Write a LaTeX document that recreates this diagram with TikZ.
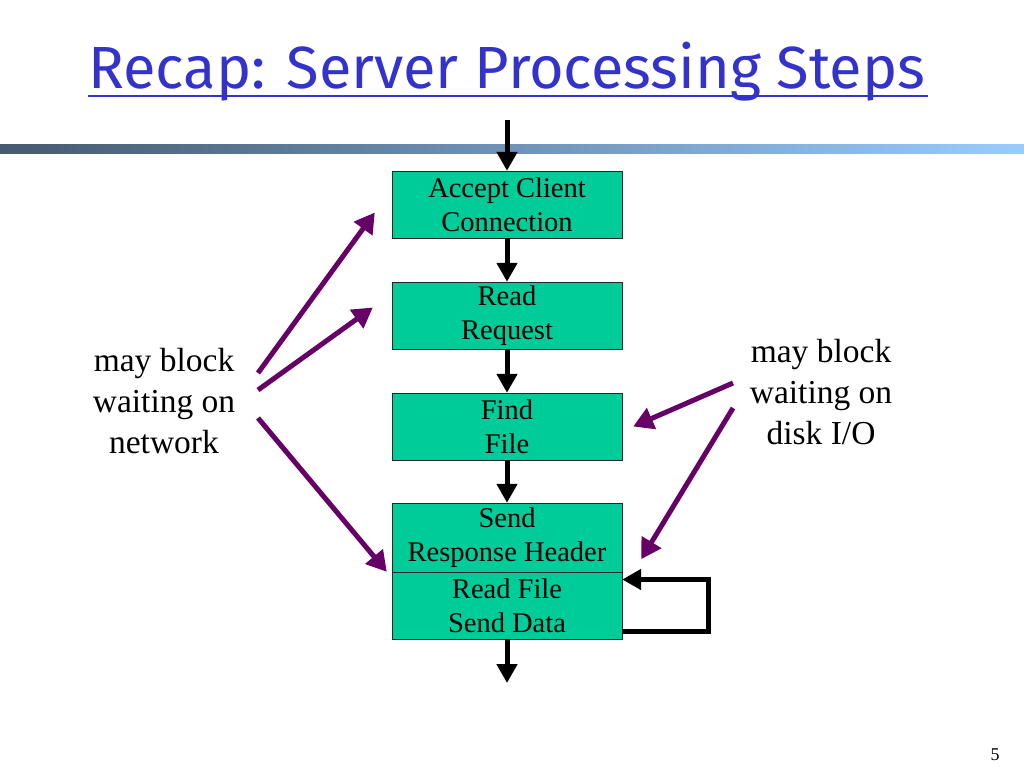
\documentclass[tikz,border=0pt]{standalone}
\usepackage{fontspec}
\setmainfont{Liberation Serif}
\newfontfamily\titlefont{Fira Sans}
\usetikzlibrary{arrows.meta,positioning}

\definecolor{stepgreen}{HTML}{00CC99}
\definecolor{blockpurple}{HTML}{660066}
\definecolor{titleblue}{HTML}{3333CC}
\definecolor{barleft}{HTML}{465A70}
\definecolor{barright}{HTML}{99CCFF}

\tikzset{
  stepbox/.style={draw=black!85, fill=stepgreen, minimum width=230pt, minimum height=67pt,
    inner sep=0pt, align=center, font=\fontsize{28.5}{34}\selectfont},
  flow/.style={line width=5pt, -{Triangle[length=19pt,width=20pt]}},
  blockarrow/.style={draw=blockpurple, line width=5pt, -{Triangle[length=20pt,width=22pt]}},
  note/.style={align=center, font=\fontsize{33.5}{41}\selectfont}
}

\begin{document}
\begin{tikzpicture}[x=1pt,y=-1pt]
\useasboundingbox (0,0) rectangle (1024,768);

% Title and bar
\node[anchor=base west, text=titleblue, inner sep=0pt, font=\titlefont\fontsize{59.5}{64}\selectfont]
  (title) at (88,88) {Recap: Server Processing Steps};
\draw[titleblue, line width=2pt] (88,96) -- (928,96);
\shade[left color=barleft, right color=barright] (0,144) rectangle (1024,153);

% Draw the steps
\node[stepbox] (accept) at (507,204.5) {Accept Client\\Connection};
\node[stepbox] (readreq) at (507,315.5) {Read\\Request};
\node[stepbox] (findfile) at (507,426.5) {Find\\File};
\node[stepbox, minimum height=69pt] (senda) at (507,537.5) {Send\\Response Header};
\node[stepbox] (sendb) at (507,605.5) {Read File\\Send Data};

\coordinate (start) at (507,120);
\coordinate (finish) at (507,683);

\draw[flow] (start) -- (accept.north);
\draw[flow] (accept) -- (readreq);
\draw[flow] (readreq) -- (findfile);
\draw[flow] (findfile) -- (senda);
\draw[flow] (sendb) -- (finish);
\draw[flow] ([yshift=-26pt]sendb.east) -- ++(86,0) |- ([yshift=26pt]sendb.east);

% Blocking notes
\node[note] (netnote) at (164,401) {may block\\waiting on\\network};
\node[note] (disknote) at (821,392) {may block\\waiting on\\disk I/O};

\coordinate (n1) at (258,373);
\coordinate (n2) at (258,390);
\coordinate (n3) at (258,418);
\coordinate (d1) at (733,383);
\coordinate (d2) at (733,408);

\draw[blockarrow] (n1) -- ([xshift=-17pt,yshift=-8pt]accept.west);
\draw[blockarrow] (n2) -- ([xshift=-19pt,yshift=8pt]readreq.west);
\draw[blockarrow] (n3) -- ([xshift=-5pt]sendb.north west);
\draw[blockarrow] (d1) -- ([xshift=11pt]findfile.east);
\draw[blockarrow] (d2) -- ([xshift=19pt,yshift=13pt]senda.south east);

% Page number
\node[font=\fontsize{18}{20}\selectfont] (pagenum) at (995,755) {5};
\end{tikzpicture}
\end{document}
